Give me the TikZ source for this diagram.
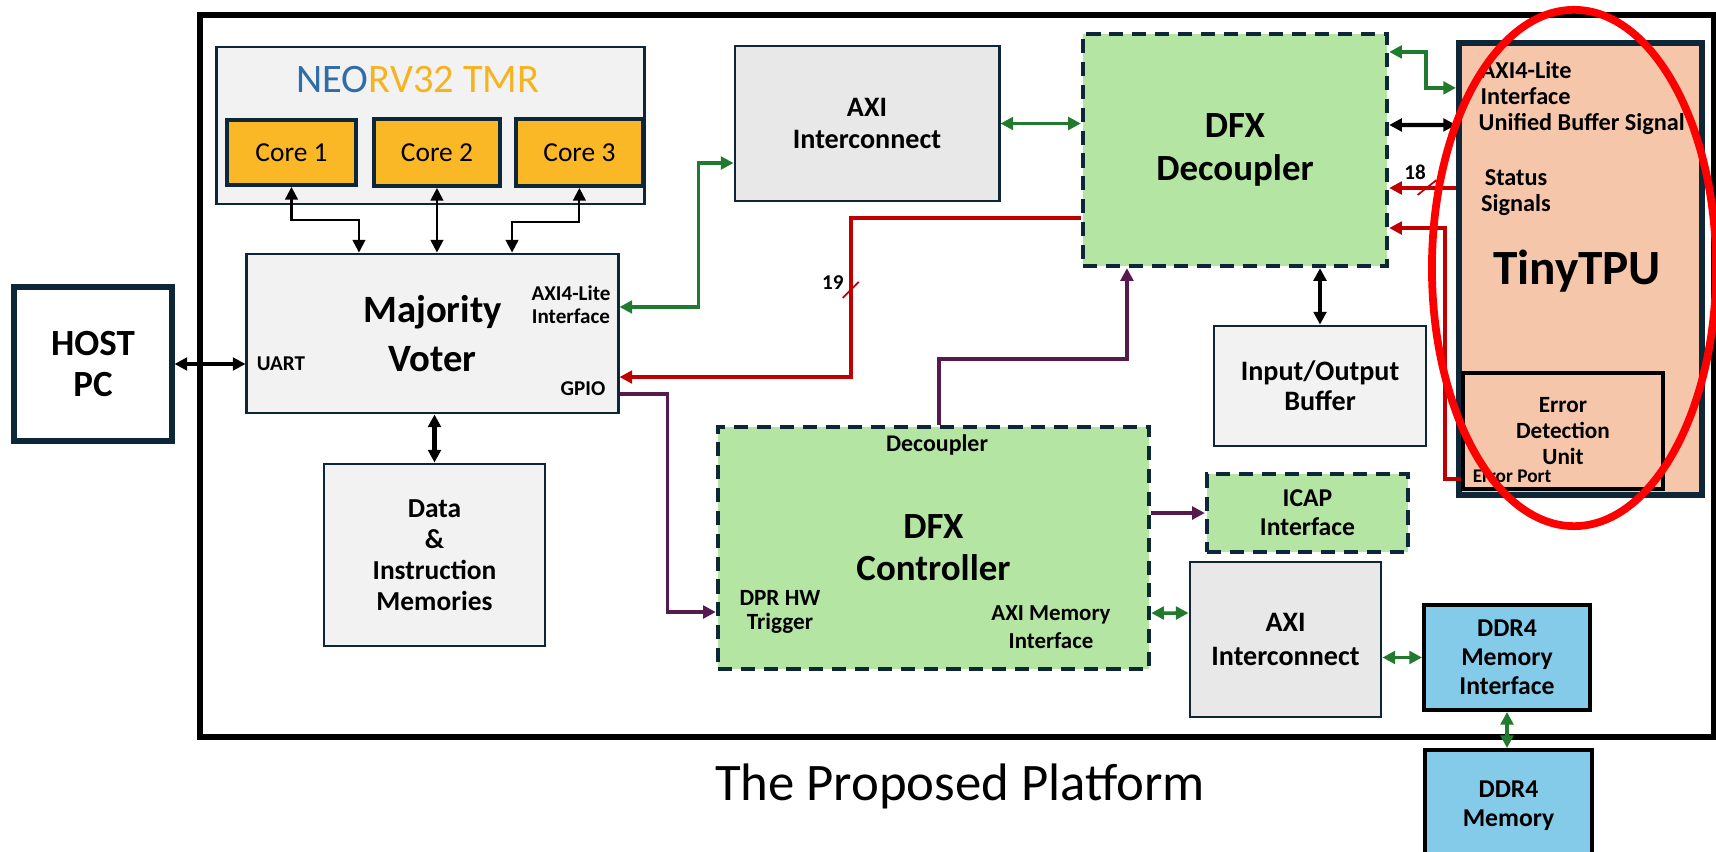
\documentclass[tikz,border=0pt]{standalone}
\usepackage{fontspec}
\setmainfont{Carlito}
\usetikzlibrary{positioning,arrows.meta}

\definecolor{edgeblue}{HTML}{0E2738}
\definecolor{lightbox}{HTML}{F2F2F2}
\definecolor{axigray}{HTML}{E8E8E8}
\definecolor{coreyellow}{HTML}{FBB826}
\definecolor{dfxgreen}{HTML}{B4E5A2}
\definecolor{tpupeach}{HTML}{F6C6AA}
\definecolor{ddrblue}{HTML}{84CBEA}
\definecolor{axigreen}{HTML}{217A2E}
\definecolor{sigred}{HTML}{C00000}
\definecolor{trigpurple}{HTML}{561A4E}
\definecolor{neoblue}{HTML}{2F6DAA}
\definecolor{neoorange}{HTML}{F5B320}

\newcommand{\bxfont}[2]{\fontsize{#1}{#2}\selectfont\bfseries}

\begin{document}
\begin{tikzpicture}[
        x=0.01cm, y=-0.01cm,
        >={Triangle[length=3.6pt,width=3.6pt]},
        box/.style={
            draw=edgeblue,
            line width=0.8pt,
            fill=lightbox,
            align=center,
            inner sep=0pt
        },
        dfxbox/.style={box, fill=dfxgreen, line width=1.2pt, dash pattern=on 4pt off 2.5pt},
        ddrbox/.style={box, draw=black, fill=ddrblue, line width=1.1pt},
        lbl/.style={align=center, inner sep=0pt},
        biarrow/.style={<->, line width=0.6pt},
        bigarrow/.style={<->, line width=1.2pt},
        grnarrow/.style={<->, axigreen, line width=1pt},
        redarrow/.style={->, sigred, line width=1.1pt},
        purarrow/.style={->, trigpurple, line width=1pt}
    ]
    \useasboundingbox (0,0) rectangle (1716,852);

    \node[draw, line width=1.7pt, minimum width=15.14cm, minimum height=7.22cm, inner sep=0pt] (platform) at (957,376) {};
    \node[font=\fontsize{15}{18}\selectfont] (caption) at (960,786) {The Proposed Platform};

    \node[box, fill=white, line width=1.7pt, minimum width=1.57cm, minimum height=1.53cm, font=\bxfont{10.5}{11.7}] (host) at (93,364) {HOST\\PC};

    % NEORV32 TMR
    \node[box, minimum width=4.27cm, minimum height=1.57cm] (neo) at (430.5,125.5) {};
    \node[lbl, font=\fontsize{11.5}{13}\selectfont] (neotitle) at (418,80) {\textcolor{neoblue}{NEO}\textcolor{neoorange}{RV32 TMR}};
    \node[box, fill=coreyellow, line width=1.1pt, minimum width=1.29cm, minimum height=0.65cm, font=\fontsize{7.8}{9}\selectfont] (core1) at (291.5,152.5) {Core 1};
    \node[box, fill=coreyellow, line width=1.1pt, minimum width=1.26cm, minimum height=0.67cm, font=\fontsize{7.8}{9}\selectfont, right=0.14cm of core1] (core2) {Core 2};
    \node[box, fill=coreyellow, line width=1.1pt, minimum width=1.27cm, minimum height=0.67cm, font=\fontsize{7.8}{9}\selectfont, right=0.12cm of core2] (core3) {Core 3};

    \node[box, minimum width=3.71cm, minimum height=1.59cm, font=\bxfont{11}{13.7}] (voter) at (432.5,333.5) {Majority\\Voter};
    \node[lbl, font=\bxfont{6}{6.5}] (voteraxi) at (571,305) {AXI4-Lite\\Interface};
    \node[lbl, font=\bxfont{6}{6.5}] (uart) at (281,364) {UART};
    \node[lbl, font=\bxfont{6}{6.5}] (gpio) at (583,389) {GPIO};

    \node[box, minimum width=2.21cm, minimum height=1.82cm, font=\bxfont{7.8}{8.8}] (mem) at (434.5,555) {Data\\\&\\Instruction\\Memories};

    \node[box, fill=axigray, minimum width=2.64cm, minimum height=1.55cm, font=\bxfont{8}{9.1}] (axi1) at (867,123.5) {AXI\\Interconnect};
    \node[dfxbox, minimum width=3.04cm, minimum height=2.32cm, font=\bxfont{10.5}{12}] (dec) at (1235,150) {DFX\\Decoupler};
    \node[box, minimum width=2.12cm, minimum height=1.20cm, font=\bxfont{8}{8.6}] (iob) at (1320,386) {Input/Output\\Buffer};

    % TinyTPU
    \node[box, fill=tpupeach, line width=1.7pt, minimum width=2.43cm, minimum height=4.52cm] (tpu) at (1580.5,269) {};
    \node[box, draw=black, fill=tpupeach, line width=1pt, minimum width=2.00cm, minimum height=1.16cm, font=\bxfont{6.6}{7.4}] (edu) at (1563,431) {Error\\Detection\\Unit};
    \node[lbl, anchor=west, align=left, font=\bxfont{6.9}{7.4}] (tpuaxi) at (1480,83) {AXI4-Lite\\Interface};
    \node[lbl, anchor=west, font=\bxfont{6.9}{7.4}] (tpuub) at (1478,124) {Unified Buffer Signal};
    \node[lbl, font=\bxfont{6.9}{7.4}] (tpustat) at (1516,193) {Status\\Signals};
    \node[lbl, font=\bxfont{14}{16}] (tpuname) at (1577,271) {TinyTPU};
    \node[lbl, font=\bxfont{5.5}{6}] (errport) at (1512,476) {Error Port};

    % DFX controller side
    \node[dfxbox, minimum width=4.31cm, minimum height=2.42cm, font=\bxfont{10.5}{12}] (ctrl) at (933.5,548) {DFX\\Controller};
    \node[lbl, font=\bxfont{6.8}{7.4}] (ctrldec) at (937,445) {Decoupler};
    \node[lbl, font=\bxfont{6.6}{7}] (dprhw) at (780,612) {DPR HW\\Trigger};
    \node[lbl, font=\bxfont{6.5}{8}] (axmem) at (1051,627) {AXI Memory\\Interface};
    \node[dfxbox, minimum width=2.01cm, minimum height=0.78cm, font=\bxfont{7.3}{8.2}] (icap) at (1307.5,513) {ICAP\\Interface};
    \node[box, fill=axigray, minimum width=1.91cm, minimum height=1.55cm, font=\bxfont{8}{9.7}] (axi2) at (1285.5,639.5) {AXI\\Interconnect};
    \node[ddrbox, minimum width=1.66cm, minimum height=1.05cm, font=\bxfont{7.3}{8.3}] (ddrmi) at (1507,657.5) {DDR4\\Memory\\Interface};
    \node[ddrbox, minimum width=1.67cm, minimum height=1.12cm, font=\bxfont{7.3}{8.3}] (ddrm) at (1508.5,806) {DDR4\\Memory};

    % connectors
    \draw[bigarrow] (host.east) -- (host.east -| voter.west);
    \draw[biarrow] (core1.south) -- ++(0,33) -| ([xshift=-0.735cm]voter.north);
    \draw[biarrow] (core2.south) -- (core2.south |- voter.north);
    \draw[biarrow] (core3.south) -- ++(0,34) -| ([xshift=0.795cm]voter.north);
    \draw[bigarrow] (mem.north |- voter.south) -- (mem.north);

    \draw[grnarrow] ([yshift=0.265cm]voter.east) -- ++(79,0) |- ([yshift=-0.395cm]axi1.west);
    \draw[grnarrow] (axi1.east) -- (axi1.east -| dec.west);
    \draw[redarrow] ([yshift=-0.68cm]dec.west) -- ++(-230,0) |- coordinate[pos=0.226] (bus19) ([yshift=-0.435cm]voter.east);
    \draw[sigred, line width=0.5pt] (bus19) ++(-8,8) -- ++(16,-16);
    \node[lbl, font=\bxfont{6}{6.5}] (n19) at ([xshift=-0.18cm,yshift=0.07cm]bus19) {19};

    \draw[purarrow] ([yshift=-0.605cm]voter.east) -- ++(48,0) |- ([yshift=-0.64cm]ctrl.west);
    \draw[purarrow] ([xshift=0.055cm]ctrl.north) -- ++(0,-66) -| ([xshift=-1.08cm]dec.south);
    \draw[bigarrow] (iob.north |- dec.south) -- (iob.north);
    \draw[purarrow] (ctrl.east |- icap.west) -- (icap.west);
    \draw[grnarrow] ([yshift=-0.65cm]ctrl.east) -- ([yshift=0.265cm]axi2.west);
    \draw[grnarrow] (axi2.east |- ddrmi.west) -- (ddrmi.west);
    \draw[grnarrow] (ddrmi.south) -- (ddrmi.south |- ddrm.north);

    \draw[grnarrow] ([yshift=0.98cm]dec.east) -- ++(37,0) |- ([yshift=1.81cm]tpu.west);
    \draw[bigarrow] ([yshift=0.25cm]dec.east) -- ([yshift=1.44cm]tpu.west);
    \draw[redarrow] ([yshift=0.81cm]tpu.west) -- coordinate[pos=0.44] (bus18) ([yshift=-0.38cm]dec.east);
    \draw[sigred, line width=0.5pt] (bus18) ++(-9,7) -- ++(19,-15);
    \node[lbl, font=\bxfont{6}{6.5}] (n18) at (1415,172) {18};
    \draw[redarrow] ([yshift=-0.48cm]edu.west) -- ++(-16,0) |- ([yshift=-0.78cm]dec.east);

    \draw[red, line width=2.2pt] (1574,268) ellipse [x radius=1.42cm, y radius=2.58cm];
\end{tikzpicture}
\end{document}
